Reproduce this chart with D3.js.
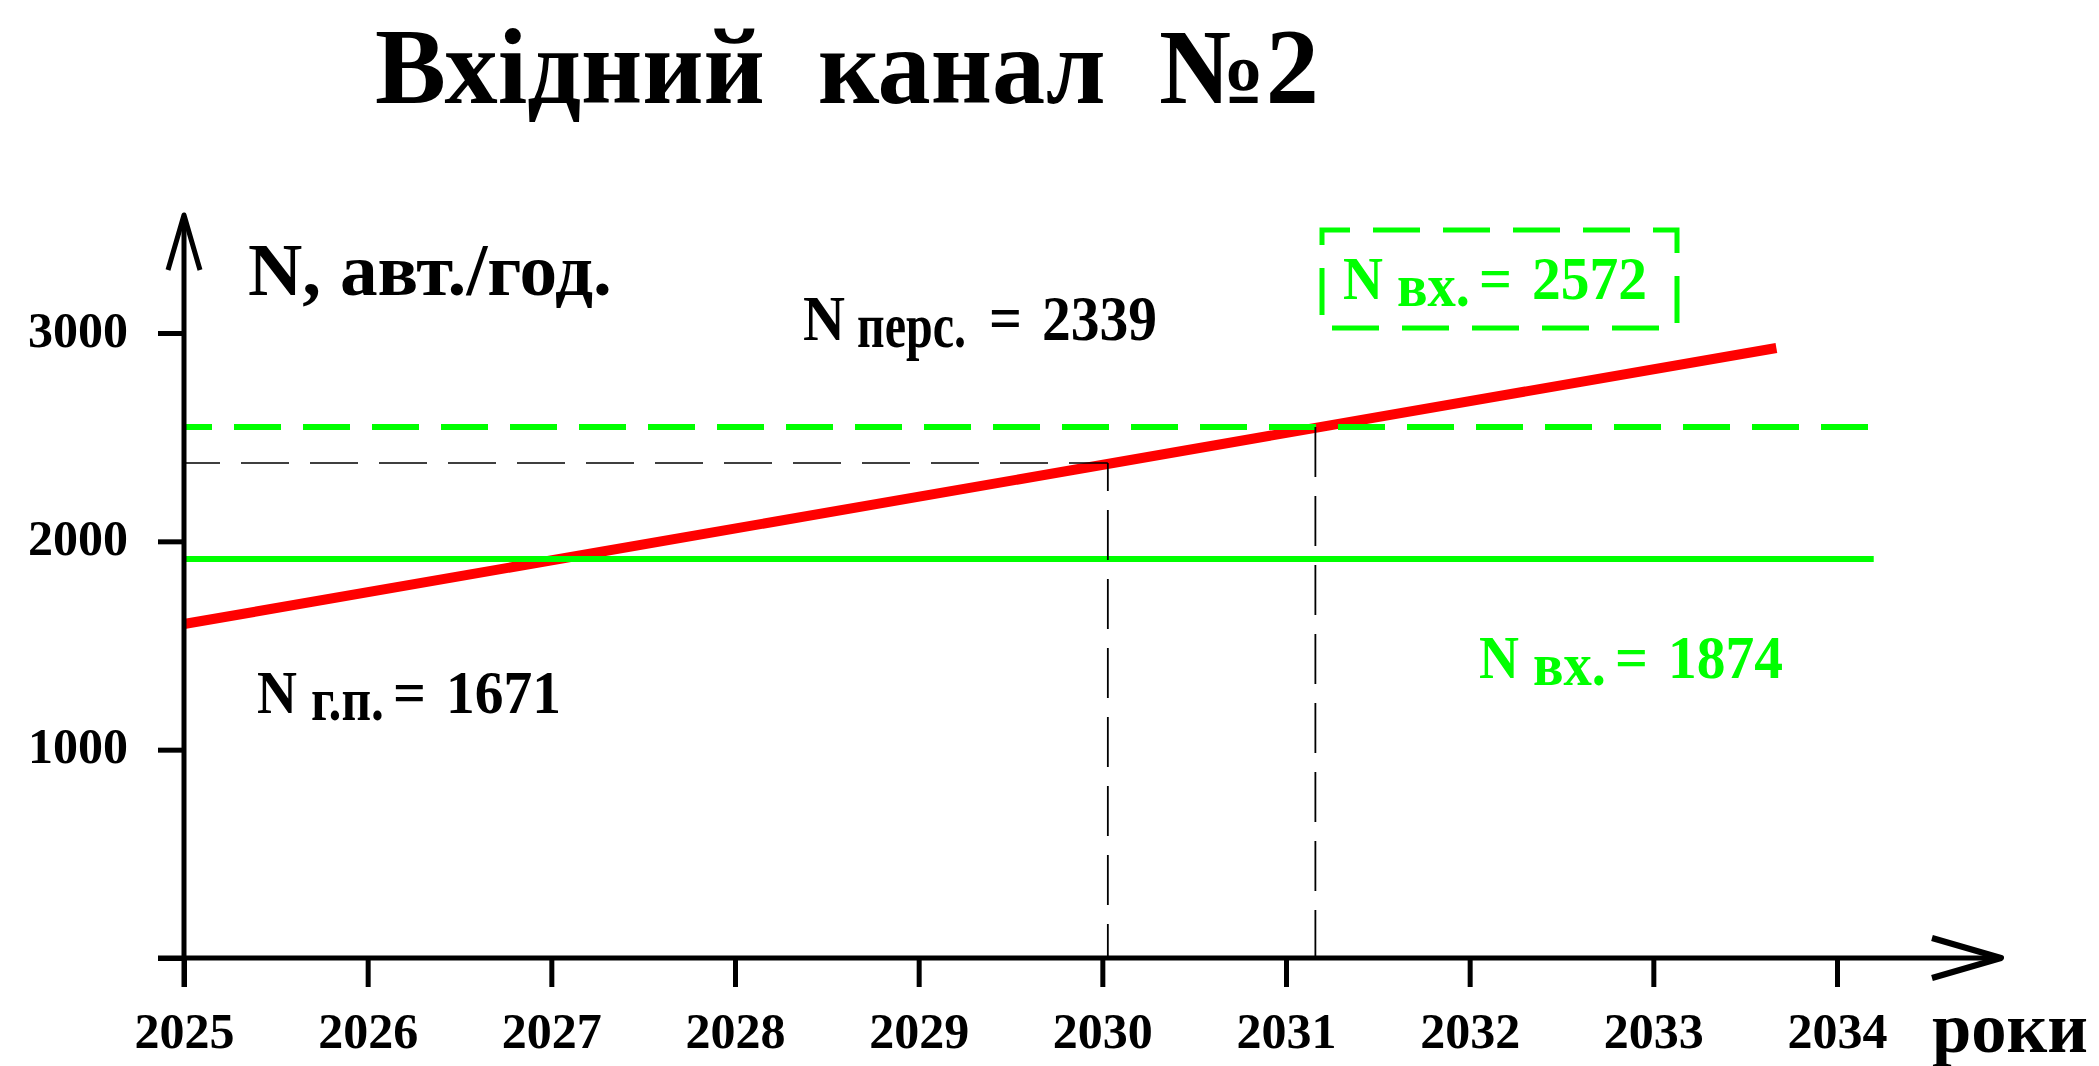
<!DOCTYPE html>
<html>
<head>
<meta charset="utf-8">
<title>Вхідний канал №2</title>
<script src="https://cdn.jsdelivr.net/npm/d3@7"></script>
<style>
  body { margin: 0; background: #fff; }
  svg { display: block; font-family: "Liberation Serif", Tinos, "Times New Roman", Times, serif; font-weight: bold; }
</style>
</head>
<body>
<svg id="chart" width="2099" height="1066"></svg>
<script>
//chart data
var years = [2025, 2026, 2027, 2028, 2029, 2030, 2031, 2032, 2033, 2034];
var yTicks = [0, 1000, 2000, 3000];
var yTickLabels = ["", "1000", "2000", "3000"];
//red line - growth of traffic
var growthYears = [2025, 2033.67];
var growthValues = [1603, 2928];
//green solid line - capacity now
var capNowYears = [2025, 2034.2];
var capNowValues = [1915, 1915];
//green dashed line - capacity after changes
var capNewYears = [2025, 2034.21];
var capNewValues = [2549, 2549];
//black dashed guides at the crossing points
var guideYears = [2030.03, 2031.16];
var guideValues = [2376, 2549];
//texts
var titleText = "Вхідний  канал  №2";
var yTitle = "N, авт./год.";
var xTitle = "роки";
var labelNames = ["г.п.", "перс.", "вх.", "вх."];
var labelValues = [1671, 2339, 2572, 1874];

var green = "#00ff00",
  red = "#ff0000";

var svg = d3.select("#chart");

// -- scales
var x = d3.scaleLinear().domain([2025, 2034]).range([184, 1837]),
  y = d3.scaleLinear().domain([0, 3000]).range([958, 333]);

var line = d3.line()
  .x(function(d) { return x(d[0]); })
  .y(function(d) { return y(d[1]); });

//helper - one piece of text squeezed to a given width
function piece(g, str, px, py, size, w, color) {
  var t = g.append("text")
    .attr("font-size", size)
    .attr("fill", color || "#000")
    .style("white-space", "pre")
    .text(str);
  var natural = t.node().getComputedTextLength();
  t.attr("transform", "translate(" + px + "," + py + ") scale(" + (w / natural) + ",1)");
  return t;
}

//helper - "N sub = value" label
function nLabel(i, px, py, color) {
  var g = svg.append("g").attr("transform", "translate(" + px + "," + py + ")");
  var sub = labelNames[i];
  // widths of subscripts differ
  var subW = { "г.п.": 73, "перс.": 109, "вх.": 73 }[sub];
  var size = sub === "перс." ? 64 : 61;
  piece(g, "N", 0, 0, size, sub === "перс." ? 42 : 40, color);
  piece(g, sub, 54, 7, size, subW, color);
  var eqX = 54 + subW + (sub === "перс." ? 23 : 9);
  piece(g, "=", eqX, 0, size, 33, color);
  piece(g, String(labelValues[i]), eqX + 53, 0, size, 115, color);
}

//title
piece(svg, titleText, 375, 103, 107, 944);

//data lines
// -- red growth
svg.append("path")
  .attr("d", line(d3.zip(growthYears, growthValues)))
  .attr("fill", "none")
  .attr("stroke", red)
  .attr("stroke-width", 10);
// -- green solid
svg.append("path")
  .attr("d", line(d3.zip(capNowYears, capNowValues)))
  .attr("fill", "none")
  .attr("stroke", green)
  .attr("stroke-width", 6);
// -- green dashed
svg.append("path")
  .attr("d", line(d3.zip(capNewYears, capNewValues)))
  .attr("fill", "none")
  .attr("stroke", green)
  .attr("stroke-width", 6)
  .attr("stroke-dasharray", "47,22")
  .attr("stroke-dashoffset", 19);

// -- black dashed guides
svg.append("path")
  .attr("d", line([[2025, guideValues[0]], [guideYears[0], guideValues[0]]]))
  .attr("fill", "none")
  .attr("stroke", "#000")
  .attr("stroke-width", 1.6)
  .attr("stroke-dasharray", "48,21")
  .attr("stroke-dashoffset", 12);
svg.append("path")
  .attr("d", line([[guideYears[0], guideValues[0]], [guideYears[0], 0]]))
  .attr("fill", "none")
  .attr("stroke", "#000")
  .attr("stroke-width", 1.8)
  .attr("stroke-dasharray", "50,19")
  .attr("stroke-dashoffset", 22);
svg.append("path")
  .attr("d", line([[guideYears[1], guideValues[1]], [guideYears[1], 0]]))
  .attr("fill", "none")
  .attr("stroke", "#000")
  .attr("stroke-width", 1.8)
  .attr("stroke-dasharray", "50,19");

//axes
// -- x axis ticks and labels
var gx = svg.append("g")
  .attr("transform", "translate(0," + y(0) + ")")
  .call(d3.axisBottom(x).tickValues(years).tickFormat(d3.format("d")).tickSize(29).tickSizeOuter(0));
gx.attr("font-family", null).attr("font-size", 50);
gx.select(".domain").remove();
gx.selectAll(".tick line").attr("stroke", "#000").attr("stroke-width", 5);
gx.selectAll(".tick text").attr("y", 90).attr("dy", 0).attr("fill", "#000");
// -- y axis ticks and labels
var gy = svg.append("g")
  .attr("transform", "translate(" + x(2025) + ",0)")
  .call(d3.axisLeft(y).tickValues(yTicks).tickFormat(function(d, i) { return yTickLabels[i]; }).tickSize(26).tickSizeOuter(0));
gy.attr("font-family", null).attr("font-size", 50);
gy.select(".domain").remove();
gy.selectAll(".tick line").attr("stroke", "#000").attr("stroke-width", 5);
gy.selectAll(".tick text").attr("x", -56).attr("dy", 13).attr("fill", "#000");

// -- axis lines with open arrows
var x0 = x(2025), y0 = y(0);
svg.append("line")
  .attr("x1", x0).attr("y1", y0 + 29)
  .attr("x2", x0).attr("y2", 216)
  .attr("stroke", "#000").attr("stroke-width", 5);
svg.append("path")
  .attr("d", "M" + (x0 - 16) + ",270L" + x0 + ",215L" + (x0 + 16) + ",270")
  .attr("fill", "none").attr("stroke", "#000").attr("stroke-width", 5)
  .attr("stroke-linejoin", "round");
svg.append("line")
  .attr("x1", x0 - 26).attr("y1", y0)
  .attr("x2", 1998).attr("y2", y0)
  .attr("stroke", "#000").attr("stroke-width", 5);
svg.append("path")
  .attr("d", "M1932," + (y0 - 20) + "L2001," + y0 + "L1932," + (y0 + 20))
  .attr("fill", "none").attr("stroke", "#000").attr("stroke-width", 6)
  .attr("stroke-linejoin", "round");

// -- axis titles
piece(svg, yTitle, 248, 295, 75, 364);
piece(svg, xTitle, 1932, 1052, 72, 156);

//value labels
nLabel(0, 257, 713, "#000");
nLabel(1, 803, 340, "#000");
nLabel(2, 1343, 299, green);
nLabel(3, 1479, 678, green);

// -- dashed frame round the new capacity
svg.append("path")
  .attr("d", "M1322,230H1677V328H1322Z")
  .attr("fill", "none")
  .attr("stroke", green)
  .attr("stroke-width", 5)
  .attr("stroke-dasharray", "47,23")
  .attr("stroke-dashoffset", 19);
</script>
</body>
</html>
